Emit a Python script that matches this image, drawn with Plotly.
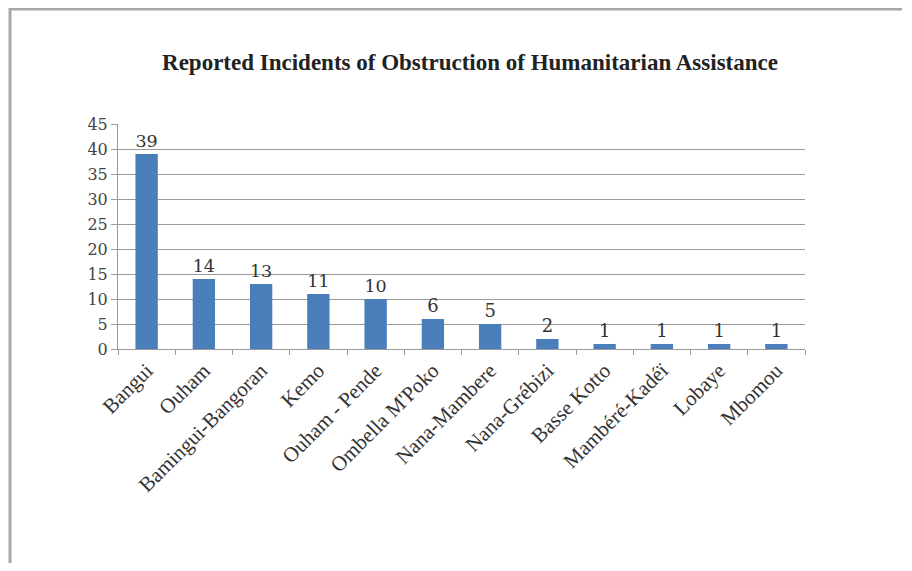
import plotly.graph_objects as go

categories = ["Bangui", "Ouham", "Bamingui-Bangoran", "Kemo", "Ouham - Pende",
              "Ombella M'Poko", "Nana-Mambere", "Nana-Grébizi", "Basse Kotto",
              "Mambéré-Kadéï", "Lobaye", "Mbomou"]
incidents = [39, 14, 13, 11, 10, 6, 5, 2, 1, 1, 1, 1]
y_ticks = [0, 5, 10, 15, 20, 25, 30, 35, 40, 45]

title_text = "Reported Incidents of Obstruction of Humanitarian Assistance"

W, H = 896, 555
L, R, T, B = 110, 99, 116, 214
PW, PH = W - L - R, H - T - B


def px(x):
    return (x - L) / PW


def py(y):
    return (H - B - y) / PH


fig = go.Figure()
fig.add_trace(go.Bar(
    x=categories, y=incidents,
    marker=dict(color="#4A7EBB", line=dict(width=0)),
    text=[str(v) for v in incidents], textposition="outside",
    textfont=dict(family="DejaVu Serif", size=18, color="#333333"),
    cliponaxis=False,
))

fig.update_layout(
    width=W, height=H,
    margin=dict(l=L, r=R, t=T, b=B),
    paper_bgcolor="white", plot_bgcolor="white",
    bargap=0.61,
    showlegend=False,
    title=dict(text="<b>" + title_text + "</b>", x=(470 - 8) / W, xanchor="center",
               y=1 - 54 / H, yanchor="middle",
               font=dict(family="Liberation Serif", size=23, color="#222222")),
    xaxis=dict(type="category", showline=True, linecolor="#9a9a9a", linewidth=1,
               ticks="outside", tickson="boundaries", ticklen=5, tickcolor="#9a9a9a",
               tickangle=-45,
               tickfont=dict(family="Liberation Serif", size=21, color="#333333"),
               showgrid=False),
    yaxis=dict(range=[0, 45], tickvals=y_ticks, showline=True, linecolor="#9a9a9a",
               linewidth=1, ticks="outside", ticklen=6, tickcolor="#9a9a9a",
               showgrid=True, gridcolor="#9a9a9a", gridwidth=1, zeroline=False,
               tickfont=dict(family="DejaVu Serif", size=16, color="#444444")),
    shapes=[
        dict(type="line", xref="paper", yref="paper",
             x0=px(2), x1=px(W - 2), y0=py(1), y1=py(1),
             line=dict(color="#a8a8a8", width=3)),
        dict(type="line", xref="paper", yref="paper",
             x0=px(2), x1=px(2), y0=py(H), y1=py(0),
             line=dict(color="#a8a8a8", width=3)),
    ],
)

fig.write_html("out.html", config={"displayModeBar": False})
